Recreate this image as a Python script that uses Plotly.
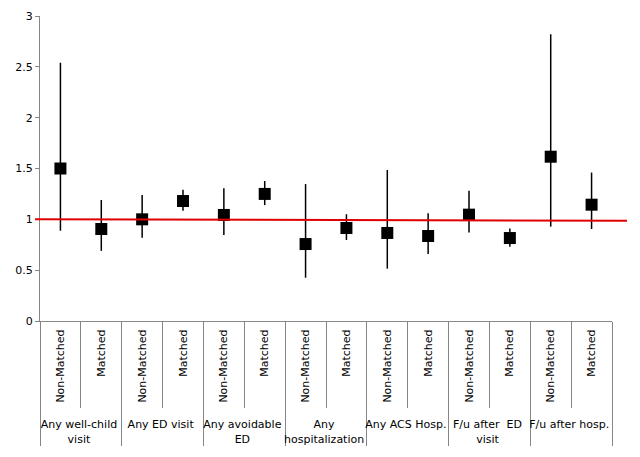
import plotly.graph_objects as go

groups = ["Any well-child<br>visit", "Any well-child<br>visit",
          "Any ED visit", "Any ED visit",
          "Any avoidable<br>ED", "Any avoidable<br>ED",
          "Any<br>hospitalization", "Any<br>hospitalization",
          "Any ACS Hosp.", "Any ACS Hosp.",
          "F/u after  ED<br>visit", "F/u after  ED<br>visit",
          "F/u after hosp.", "F/u after hosp."]
subgroups = ["Non-Matched", "Matched"] * 7

estimate = [1.50, 0.905, 1.00, 1.18, 1.043, 1.25, 0.757, 0.915, 0.866, 0.836, 1.046, 0.816, 1.616, 1.144]
upper    = [2.54, 1.19, 1.24, 1.29, 1.305, 1.377, 1.347, 1.05, 1.485, 1.06, 1.28, 0.91, 2.82, 1.46]
lower    = [0.888, 0.69, 0.82, 1.085, 0.846, 1.14, 0.426, 0.797, 0.515, 0.66, 0.87, 0.73, 0.928, 0.905]

ref_line_x = [-0.62, 13.87]
ref_line_y = [1.0, 0.986]

y_ticks = [0, 0.5, 1, 1.5, 2, 2.5, 3]

err_plus = [u - e for u, e in zip(upper, estimate)]
err_minus = [e - l for e, l in zip(estimate, lower)]

# leading no-break spaces only pad the rotated label depth so the group row sits lower
PAD = "\u00a0\u00a0"
sub_display = [PAD + s if s == "Non-Matched" else s for s in subgroups]

FONT = "DejaVu Sans"
AXIS = "#868686"

fig = go.Figure()
fig.add_trace(go.Scatter(
    x=[groups, sub_display], y=estimate, mode="markers",
    marker=dict(symbol="square", size=12, color="black"),
    error_y=dict(type="data", symmetric=False, array=err_plus, arrayminus=err_minus,
                 color="black", thickness=1.5, width=0),
    xaxis="x", yaxis="y", showlegend=False,
))
fig.add_trace(go.Scatter(
    x=ref_line_x, y=ref_line_y, mode="lines",
    line=dict(color="#E00000", width=2),
    xaxis="x2", yaxis="y", showlegend=False,
))

fig.update_layout(
    width=640, height=457,
    margin=dict(l=22, r=10, t=8, b=144, pad=0),
    paper_bgcolor="white", plot_bgcolor="rgba(0,0,0,0)",
    showlegend=False,
    font=dict(family=FONT, size=11, color="black"),
    xaxis=dict(
        type="multicategory", domain=[0.01645, 0.95724], anchor="y",
        range=[-0.5, 13.5], autorange=False,
        showline=True, linecolor=AXIS, linewidth=1,
        ticks="outside", tickson="boundaries", ticklen=86, tickcolor=AXIS, tickwidth=1,
        tickangle=-90, ticklabelstandoff=3,
        tickfont=dict(family=FONT, size=11, color="black"),
        showdividers=True, dividercolor=AXIS, dividerwidth=1,
        showgrid=False, zeroline=False, automargin=False,
    ),
    xaxis2=dict(
        domain=[0.00822, 0.98191], anchor="y", range=[-0.622, 13.867],
        visible=False, showgrid=False, zeroline=False,
    ),
    yaxis=dict(
        range=[0, 3], autorange=False, tickvals=y_ticks, ticktext=[f"{v:g}" for v in y_ticks],
        showline=True, linecolor=AXIS, linewidth=1,
        ticks="outside", ticklen=4, tickcolor=AXIS,
        showgrid=False, zeroline=False, automargin=False,
        tickfont=dict(family=FONT, size=11, color="black"),
    ),
)

fig.write_html("out.html")
